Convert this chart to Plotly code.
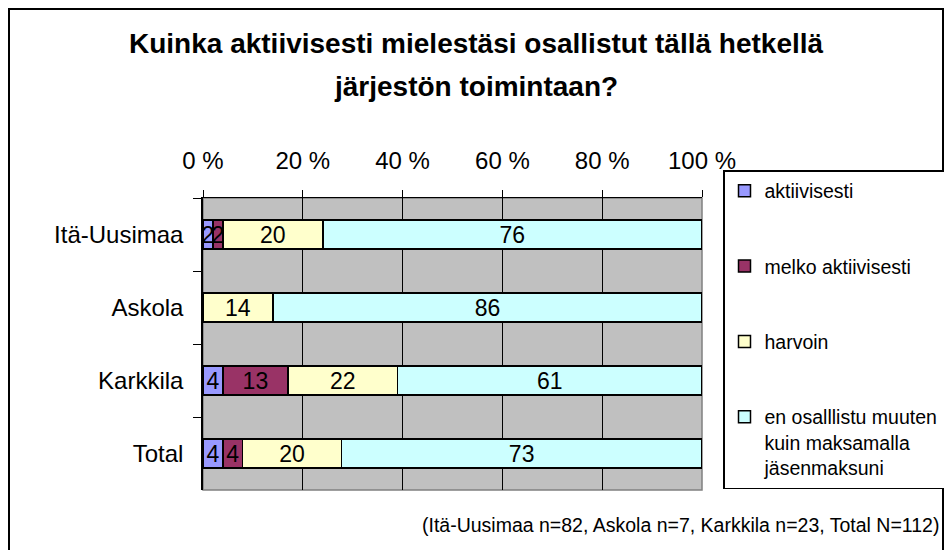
import plotly.graph_objects as go

categories = ["Itä-Uusimaa", "Askola", "Karkkila", "Total"]
series_names = ["aktiivisesti", "melko aktiivisesti", "harvoin",
                "en osalllistu muuten<br>kuin maksamalla<br>jäsenmaksuni"]
aktiivisesti = [2, 0, 4, 4]
melko_aktiivisesti = [2, 0, 13, 4]
harvoin = [20, 14, 22, 20]
en_osallistu = [76, 86, 61, 73]
series_values = [aktiivisesti, melko_aktiivisesti, harvoin, en_osallistu]
colors = ["#9999FF", "#993366", "#FFFFCC", "#CCFFFF"]
x_tickvals = [0, 20, 40, 60, 80, 100]
x_ticktext = ["0 %", "20 %", "40 %", "60 %", "80 %", "100 %"]
title_line1 = "Kuinka aktiivisesti mielestäsi osallistut tällä hetkellä"
title_line2 = "järjestön toimintaan?"
footnote = "(Itä-Uusimaa n=82, Askola n=7, Karkkila n=23, Total N=112)"

FONT = "Liberation Sans, Arial, sans-serif"
OFF = 8  # page body margin of the written html
W, H = 952, 550
# plot area in page pixels
PL, PR, PT, PB = 203, 702, 198, 490
L, T = PL - OFF, PT - OFF
R, B = W - (PR - OFF), H - (PB - OFF)
pw, ph = W - L - R, H - T - B

def px(x):
    return (x - OFF - L) / pw

def py(y):
    return (H - B - (y - OFF)) / ph

fig = go.Figure()
for i, (name, vals, col) in enumerate(zip(series_names, series_values, colors)):
    fig.add_trace(go.Bar(
        y=categories, x=vals, name=name, orientation="h",
        marker=dict(color=col, line=dict(color="black", width=1.5)),
        text=[str(v) if v else "" for v in vals],
        textposition="inside", insidetextanchor="middle", textangle=0,
        textfont=dict(size=23, color="black", family=FONT),
        legendgroup=f"g{i}", hoverinfo="skip",
    ))

fig.update_layout(
    width=W, height=H, barmode="stack", barnorm="percent", bargap=0.6,
    margin=dict(l=L, r=R, t=T, b=B),
    paper_bgcolor="white", plot_bgcolor="#C0C0C0",
    font=dict(family=FONT, color="black"),
    uniformtext=dict(minsize=23, mode="show"),
    showlegend=True,
    legend=dict(
        x=px(723), y=py(170), xanchor="left", yanchor="top",
        bgcolor="white", bordercolor="black", borderwidth=1.5,
        font=dict(size=19.5, family=FONT), traceorder="grouped",
        tracegroupgap=47, valign="top", maxheight=450,
    ),
    xaxis=dict(
        side="top", range=[0, 100], tickvals=x_tickvals, ticktext=x_ticktext,
        tickfont=dict(size=24), ticks="outside", ticklen=7, tickcolor="black",
        showgrid=True, gridcolor="black", gridwidth=1, zeroline=False,
        showline=True, linecolor="black", linewidth=1, ticklabelstandoff=11,
        fixedrange=True,
    ),
    yaxis=dict(
        type="category", categoryorder="array", categoryarray=categories,
        autorange="reversed", tickson="boundaries", ticks="outside",
        ticklen=8, tickcolor="black", showgrid=False, showline=True,
        linecolor="black", linewidth=1.5, tickfont=dict(size=24),
        ticklabelstandoff=13, fixedrange=True,
    ),
)

# plot area border (gray right / bottom)
fig.add_shape(type="rect", xref="paper", yref="paper", x0=0, x1=1, y0=0, y1=1,
              line=dict(color="#808080", width=1.5), layer="below")
# outer chart frame
fig.add_shape(type="rect", xref="paper", yref="paper",
              x0=px(9), x1=px(943), y0=py(562), y1=py(9),
              line=dict(color="black", width=2))

fig.add_annotation(text=f"<b>{title_line1}</b>", xref="paper", yref="paper",
                   x=px(476), y=py(44), xanchor="center", yanchor="middle",
                   showarrow=False, font=dict(size=28, family=FONT))
fig.add_annotation(text=f"<b>{title_line2}</b>", xref="paper", yref="paper",
                   x=px(476), y=py(86), xanchor="center", yanchor="middle",
                   showarrow=False, font=dict(size=28, family=FONT))
fig.add_annotation(text=footnote, xref="paper", yref="paper",
                   x=px(941), y=py(525), xanchor="right", yanchor="middle",
                   showarrow=False, font=dict(size=19.5, family=FONT))

fig.write_html("out.html")
